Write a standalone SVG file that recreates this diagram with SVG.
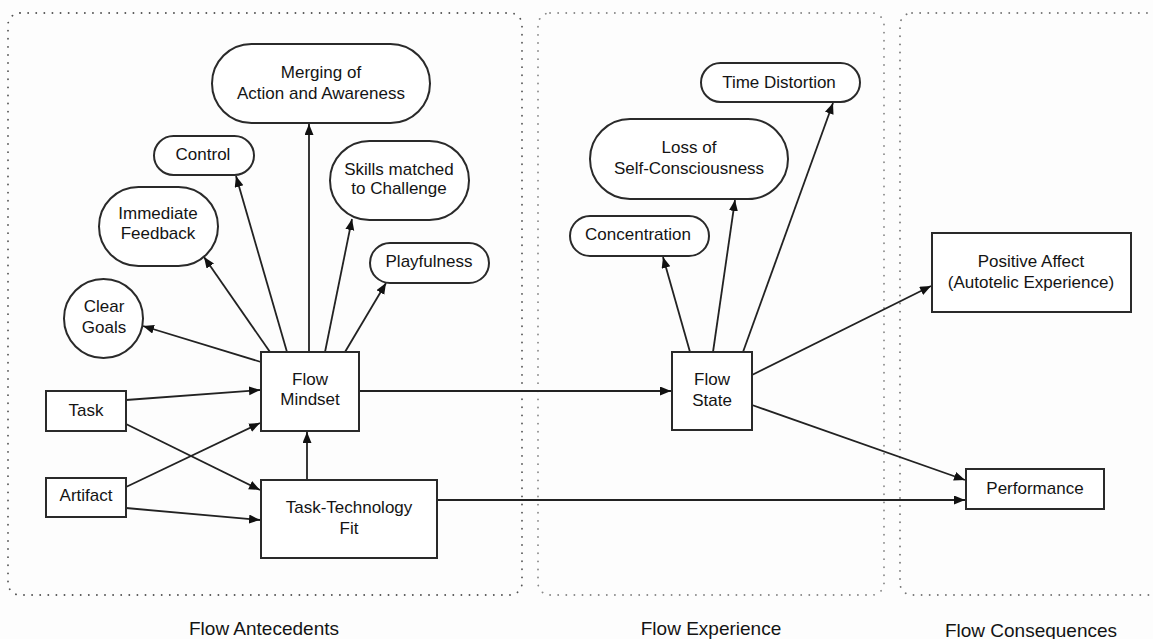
<svg xmlns="http://www.w3.org/2000/svg" width="1153" height="639" viewBox="0 0 1153 639">
<style>
.bg{fill:#fdfdfd}
.grp{fill:none;stroke-width:1.8;stroke-dasharray:0.1 8;stroke-linecap:round}
.n{fill:#fff;stroke:#2a2a2a;stroke-width:2}
.t{font-family:"Liberation Sans",Arial,sans-serif;font-size:17px;fill:#141414;text-anchor:middle;dominant-baseline:central}
.lbl{font-family:"Liberation Sans",Arial,sans-serif;font-size:19px;fill:#141414;text-anchor:middle;dominant-baseline:central}
.c{fill:none;stroke:#222;stroke-width:1.8;marker-end:url(#ah)}
</style>
<defs>
<marker id="ah" markerUnits="userSpaceOnUse" markerWidth="13" markerHeight="10" refX="11" refY="4.5" orient="auto">
<path d="M0,0 L11,4.5 L0,9 z" fill="#111"/>
</marker>
</defs>
<rect class="bg" x="0" y="0" width="1153" height="639"/>
<g id="groups">
<rect class="grp" x="8" y="13" width="514" height="582" rx="12" stroke="#555"/>
<rect class="grp" x="538" y="13" width="346" height="582" rx="12" stroke="#888"/>
<rect class="grp" x="900" y="13" width="290" height="582" rx="12" stroke="#777"/>
<text class="lbl" x="264" y="628">Flow Antecedents</text>
<text class="lbl" x="711" y="628">Flow Experience</text>
<text class="lbl" x="1031" y="630">Flow Consequences</text>
</g>
<g id="connectors">
<path class="c" d="M309,352 L309,124"/>
<path class="c" d="M287,352 L236,176"/>
<path class="c" d="M270,352 L204,257"/>
<path class="c" d="M325,352 L352,219"/>
<path class="c" d="M345,352 L386,283"/>
<path class="c" d="M261,362 L143,326"/>
<path class="c" d="M126,400 L260,390"/>
<path class="c" d="M126,424 L260,490"/>
<path class="c" d="M126,487 L260,423"/>
<path class="c" d="M126,508 L260,520"/>
<path class="c" d="M307,480 L307,432"/>
<path class="c" d="M359,391 L671,391"/>
<path class="c" d="M437,500 L965,500"/>
<path class="c" d="M690,352 L663,257"/>
<path class="c" d="M713,352 L735,200"/>
<path class="c" d="M743,352 L833,103"/>
<path class="c" d="M752,375 L931,286"/>
<path class="c" d="M752,405 L965,480"/>
</g>
<g id="merging">
<rect class="n" x="212" y="44" width="218" height="79" rx="39.5"/>
<text class="t" x="321" y="72">Merging of</text>
<text class="t" x="321" y="93">Action and Awareness</text>
</g>
<g id="control">
<rect class="n" x="154" y="136" width="100" height="39" rx="19.5"/>
<text class="t" x="203" y="154">Control</text>
</g>
<g id="skills">
<rect class="n" x="330" y="141" width="139" height="79" rx="39.5"/>
<text class="t" x="399" y="169">Skills matched</text>
<text class="t" x="399" y="188">to Challenge</text>
</g>
<g id="feedback">
<rect class="n" x="99" y="187" width="119" height="79" rx="39.5"/>
<text class="t" x="158" y="213">Immediate</text>
<text class="t" x="158" y="233">Feedback</text>
</g>
<g id="playfulness">
<rect class="n" x="370" y="243" width="119" height="40" rx="20"/>
<text class="t" x="429" y="261">Playfulness</text>
</g>
<g id="cleargoals">
<circle class="n" cx="103.5" cy="318.5" r="39.5"/>
<text class="t" x="104" y="306">Clear</text>
<text class="t" x="104" y="327">Goals</text>
</g>
<g id="task">
<rect class="n" x="46" y="391" width="80" height="40"/>
<text class="t" x="86" y="410">Task</text>
</g>
<g id="artifact">
<rect class="n" x="46" y="478" width="80" height="39"/>
<text class="t" x="86" y="495">Artifact</text>
</g>
<g id="flowmindset">
<rect class="n" x="261" y="352" width="98" height="79"/>
<text class="t" x="310" y="379">Flow</text>
<text class="t" x="310" y="399">Mindset</text>
</g>
<g id="ttf">
<rect class="n" x="261" y="480" width="176" height="78"/>
<text class="t" x="349" y="507">Task-Technology</text>
<text class="t" x="349" y="528">Fit</text>
</g>
<g id="timedistortion">
<rect class="n" x="701" y="63" width="159" height="39" rx="19.5"/>
<text class="t" x="779" y="82">Time Distortion</text>
</g>
<g id="loss">
<rect class="n" x="590" y="119" width="198" height="80" rx="40"/>
<text class="t" x="689" y="147">Loss of</text>
<text class="t" x="689" y="168">Self-Consciousness</text>
</g>
<g id="concentration">
<rect class="n" x="570" y="216" width="139" height="40" rx="20"/>
<text class="t" x="638" y="234">Concentration</text>
</g>
<g id="flowstate">
<rect class="n" x="672" y="352" width="80" height="78"/>
<text class="t" x="712" y="379">Flow</text>
<text class="t" x="712" y="400">State</text>
</g>
<g id="positiveaffect">
<rect class="n" x="932" y="233" width="199" height="79"/>
<text class="t" x="1031" y="261">Positive Affect</text>
<text class="t" x="1031" y="282">(Autotelic Experience)</text>
</g>
<g id="performance">
<rect class="n" x="966" y="469" width="138" height="40"/>
<text class="t" x="1035" y="488">Performance</text>
</g>
</svg>
